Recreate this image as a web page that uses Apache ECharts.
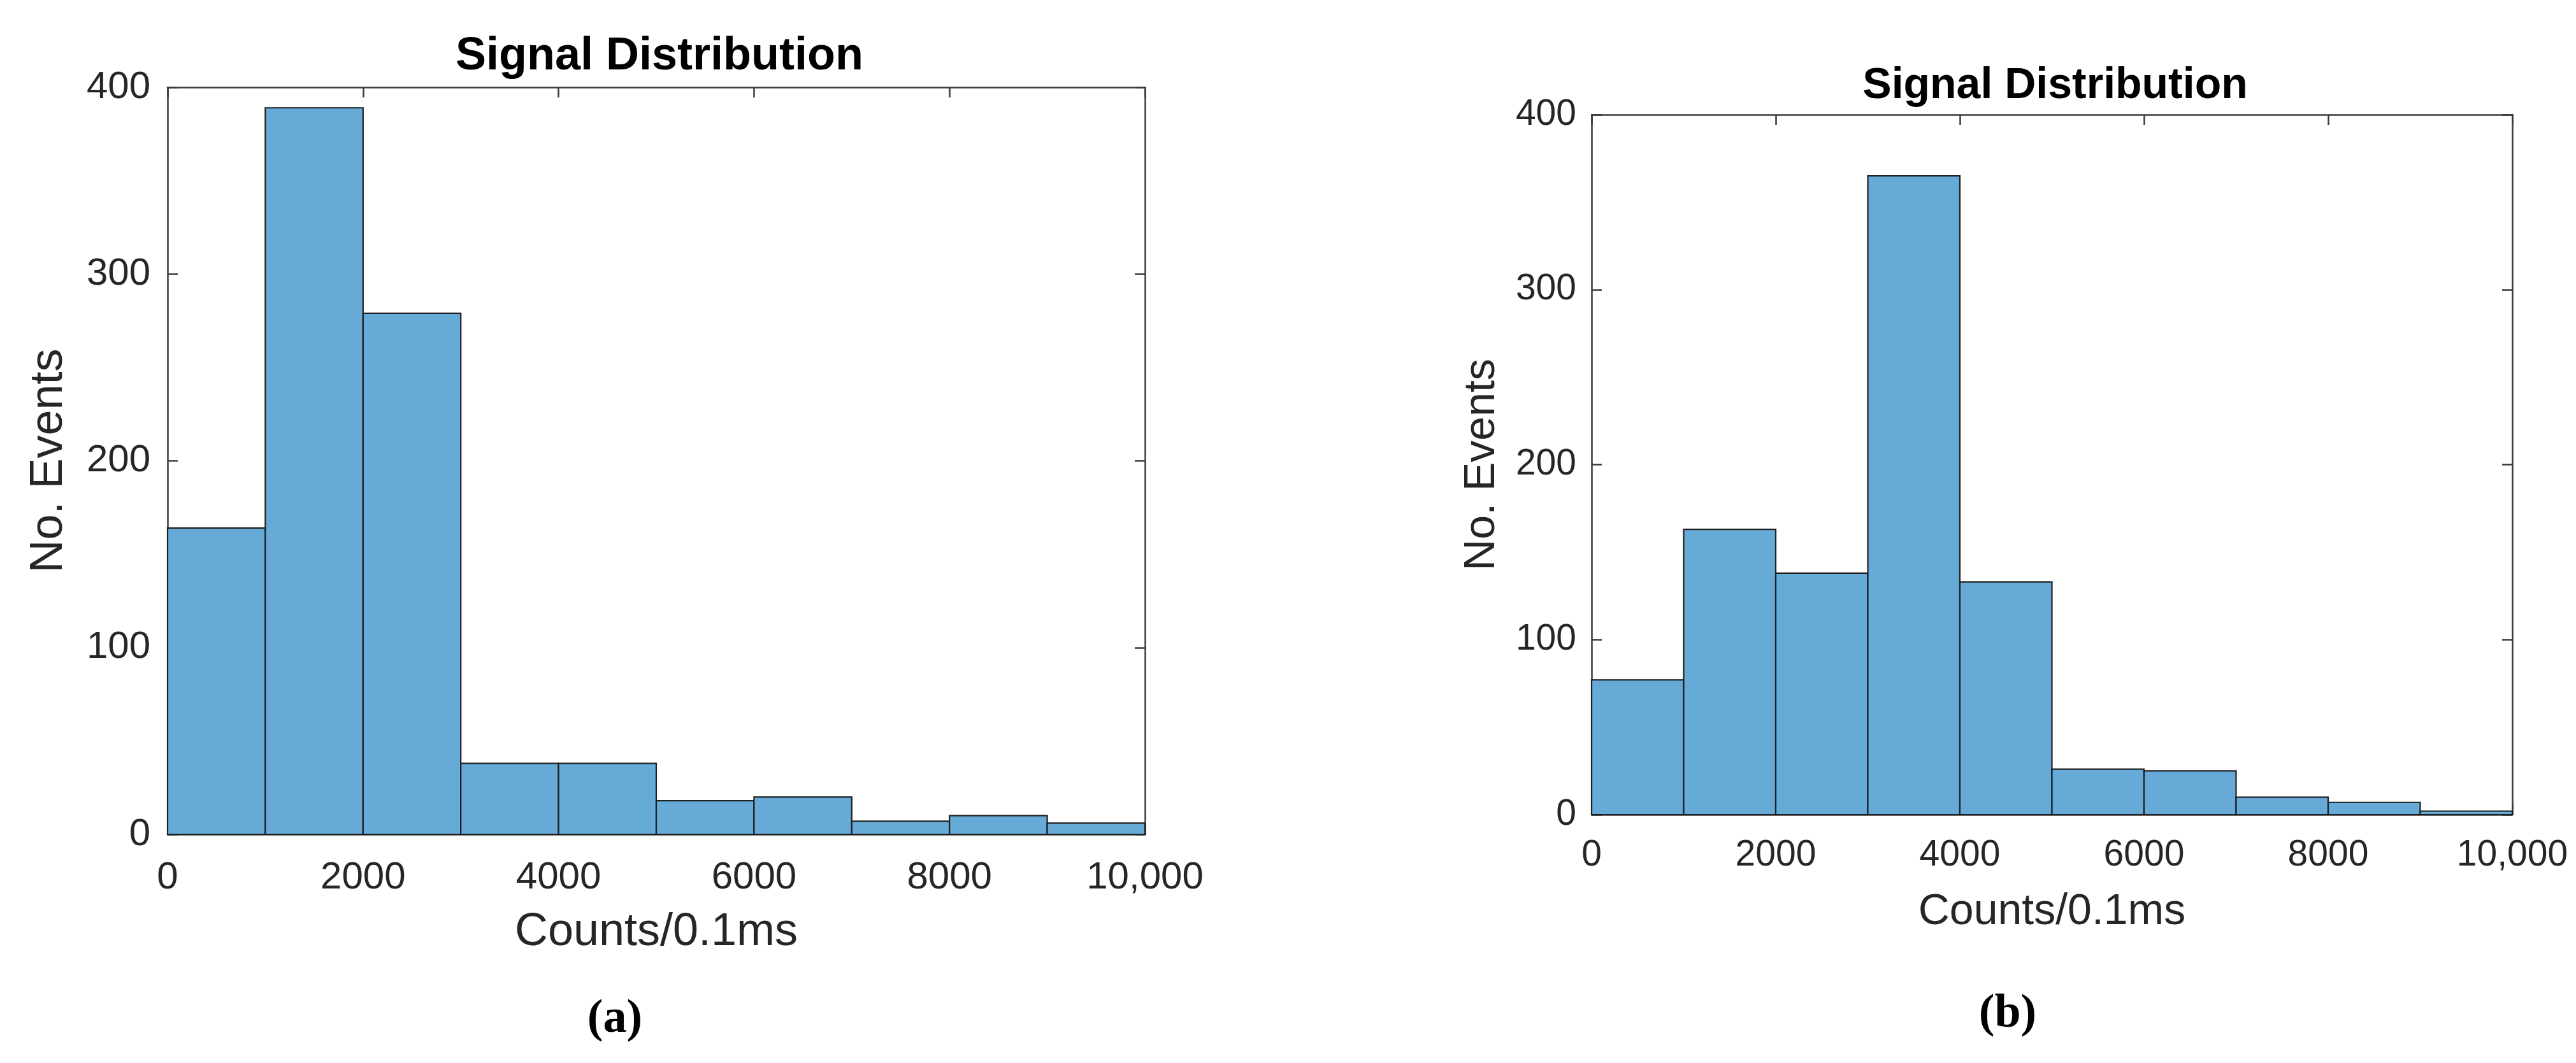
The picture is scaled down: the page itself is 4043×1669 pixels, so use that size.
<!DOCTYPE html>
<html>
<head>
<meta charset="utf-8">
<script src="https://cdn.jsdelivr.net/npm/echarts@6/dist/echarts.min.js"></script>
<style>
html,body{margin:0;padding:0;background:#fff;}
#chart{width:4043px;height:1669px;}
</style>
</head>
<body>
<div id="chart"></div>
<script>
// ---- data ----
const binEdges = [0, 1000, 2000, 3000, 4000, 5000, 6000, 7000, 8000, 9000, 10000];
const countsA = [164, 389, 279, 38, 38, 18, 20, 7, 10, 6];
const countsB = [77, 163, 138, 365, 133, 26, 25, 10, 7, 2];
const xTickLabels = ['0', '2000', '4000', '6000', '8000', '10,000'];
const yTickLabels = ['0', '100', '200', '300', '400'];
const titleText = 'Signal Distribution';
const xName = 'Counts/0.1ms';
const yName = 'No. Events';
const panelLetters = ['a', 'b'];

function toData(counts) {
  return counts.map((c, i) => [binEdges[i], binEdges[i + 1], c]);
}
const xTickValues = [0, 2000, 4000, 6000, 8000, 10000];
function xFmt(v) { const i = xTickValues.indexOf(v); return i >= 0 ? xTickLabels[i] : ''; }
function yFmt(v) { const i = [0,100,200,300,400].indexOf(v); return i >= 0 ? yTickLabels[i] : ''; }

const FILL = '#66AAD7', EDGE = '#1f1f1f', AX = '#3a3a3a', TXT = '#262626';
const FONT = '"Liberation Sans", Arial, Helvetica, sans-serif';

function renderHist(params, api) {
  const p0 = api.coord([api.value(0), api.value(2)]);
  const p1 = api.coord([api.value(1), 0]);
  return {
    type: 'rect',
    shape: { x: p0[0], y: p0[1], width: p1[0] - p0[0], height: p1[1] - p0[1] },
    style: { fill: FILL, stroke: EDGE, lineWidth: 2.2 }
  };
}

const panels = [
  { grid: { left: 263, top: 137, width: 1534, height: 1173 }, tick: 60, lab: 72, title: 72, titleTop: 48,
    xMargin: 38, yMargin: 27, xGap: 118, yGap: 150, counts: countsA, letterX: 960, letterY: 1599 },
  { grid: { left: 2498, top: 180, width: 1445, height: 1099 }, tick: 57, lab: 68, title: 68, titleTop: 96,
    xMargin: 36, yMargin: 24, xGap: 119, yGap: 138, counts: countsB, letterX: 3146, letterY: 1591 }
];

const option = {
  backgroundColor: '#fff',
  animation: false,
  grid: panels.map(p => Object.assign({ containLabel: false }, p.grid)),
  title: [],
  xAxis: [],
  yAxis: [],
  series: []
};

panels.forEach((p, i) => {
  const cx = p.grid.left + p.grid.width / 2;
  option.title.push({
    text: titleText, left: cx, top: p.titleTop, textAlign: 'center',
    textStyle: { fontFamily: FONT, fontWeight: 'bold', fontSize: p.title, color: '#000' }
  });
  option.title.push({
    text: '{p|(}{b|' + panelLetters[i] + '}{p|)}', left: p.letterX, top: p.letterY - 40, textAlign: 'center',
    textStyle: { rich: {
      p: { fontFamily: '"Liberation Serif", "Times New Roman", serif', fontSize: 74, color: '#000' },
      b: { fontFamily: '"Liberation Serif", "Times New Roman", serif', fontSize: 74, fontWeight: 'bold', color: '#000' }
    } }
  });
  const axisLine = { show: true, onZero: false, lineStyle: { color: AX, width: 2.5 } };
  const tickIn = { show: true, inside: true, length: 16, lineStyle: { color: AX, width: 2.5 } };
  option.xAxis.push({
    gridIndex: i, type: 'value', min: 0, max: 10000, interval: 2000, position: 'bottom',
    axisLine, axisTick: tickIn, splitLine: { show: false },
    axisLabel: { margin: p.xMargin, fontSize: p.tick, fontFamily: FONT, color: TXT, formatter: xFmt },
    name: xName, nameLocation: 'middle', nameGap: p.xGap,
    nameTextStyle: { fontSize: p.lab, fontFamily: FONT, color: TXT }
  });
  option.xAxis.push({
    gridIndex: i, type: 'value', min: 0, max: 10000, interval: 2000, position: 'top',
    axisLine, axisTick: tickIn, splitLine: { show: false }, axisLabel: { show: false }
  });
  option.yAxis.push({
    gridIndex: i, type: 'value', min: 0, max: 400, interval: 100, position: 'left',
    axisLine, axisTick: tickIn, splitLine: { show: false },
    axisLabel: { margin: p.yMargin, fontSize: p.tick, fontFamily: FONT, color: TXT, formatter: yFmt },
    name: yName, nameLocation: 'middle', nameGap: p.yGap, nameRotate: 90,
    nameTextStyle: { fontSize: p.lab, fontFamily: FONT, color: TXT }
  });
  option.yAxis.push({
    gridIndex: i, type: 'value', min: 0, max: 400, interval: 100, position: 'right',
    axisLine, axisTick: tickIn, splitLine: { show: false }, axisLabel: { show: false }
  });
  option.series.push({
    type: 'custom', xAxisIndex: i * 2, yAxisIndex: i * 2,
    renderItem: renderHist, data: toData(p.counts),
    encode: { x: [0, 1], y: 2 }, z: 3
  });
});

const chart = echarts.init(document.getElementById('chart'), null, { renderer: 'canvas' });
chart.setOption(option);
</script>
</body>
</html>
